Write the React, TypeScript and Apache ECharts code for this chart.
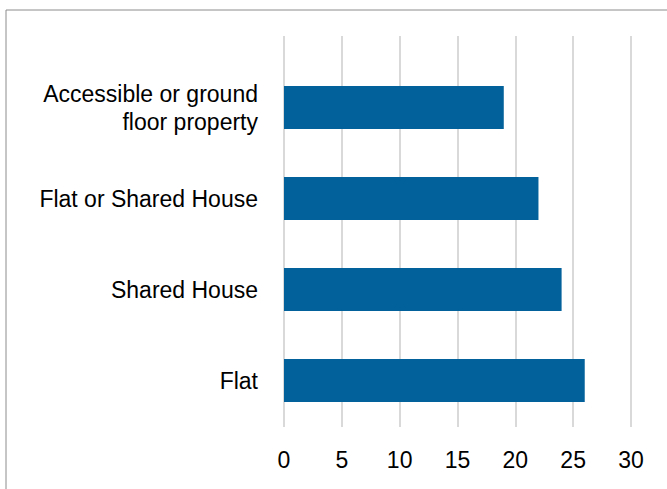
import React, { useEffect, useRef } from "react";
import * as echarts from "echarts";

const categories = [
  "Accessible or ground\nfloor property",
  "Flat or Shared House",
  "Shared House",
  "Flat",
];
const values = [19, 22, 24, 26];
const xMin = 0;
const xMax = 30;
const xInterval = 5;

export default function App() {
  const ref = useRef<HTMLDivElement>(null);
  useEffect(() => {
    if (!ref.current) return;
    const chart = echarts.init(ref.current, null, { renderer: "svg" });
    const font = "Liberation Sans";
    chart.setOption({
      animation: false,
      backgroundColor: "#ffffff",
      graphic: [
        {
          type: "rect",
          shape: { x: 6, y: 10, width: 700, height: 500 },
          style: { fill: "none", stroke: "#8c8c8c", lineWidth: 1 },
          silent: true,
        },
      ],
      grid: [
        { left: 284, right: 36, top: 36, bottom: 62 },
        { left: 284, right: 36, top: 62, bottom: 63 },
      ],
      xAxis: [
        {
          type: "value",
          gridIndex: 0,
          min: xMin,
          max: xMax,
          interval: xInterval,
          axisLine: { show: false },
          axisTick: { show: false },
          splitLine: { show: true, lineStyle: { color: "#d9d9d9", width: 2 } },
          axisLabel: {
            color: "#000000",
            fontFamily: font,
            fontSize: 23,
            margin: 21,
          },
        },
        {
          type: "value",
          gridIndex: 1,
          min: xMin,
          max: xMax,
          interval: xInterval,
          show: false,
        },
      ],
      yAxis: [
        { type: "value", gridIndex: 0, min: 0, max: 1, show: false },
        {
          type: "category",
          gridIndex: 1,
          data: categories,
          inverse: true,
          axisLine: { show: false },
          axisTick: { show: false },
          splitLine: { show: false },
          axisLabel: {
            color: "#000000",
            fontFamily: font,
            fontSize: 23,
            margin: 26,
            lineHeight: 28,
            align: "right",
          },
        },
      ],
      series: [
        { type: "scatter", xAxisIndex: 0, yAxisIndex: 0, data: [], silent: true },
        {
          type: "bar",
          xAxisIndex: 1,
          yAxisIndex: 1,
          data: values,
          barWidth: 43,
          itemStyle: { color: "#02609a" },
        },
      ],
    });
    return () => chart.dispose();
  }, []);
  return (
    <div
      ref={ref}
      style={{ position: "fixed", left: 0, top: 0, width: 667, height: 489 }}
    />
  );
}
